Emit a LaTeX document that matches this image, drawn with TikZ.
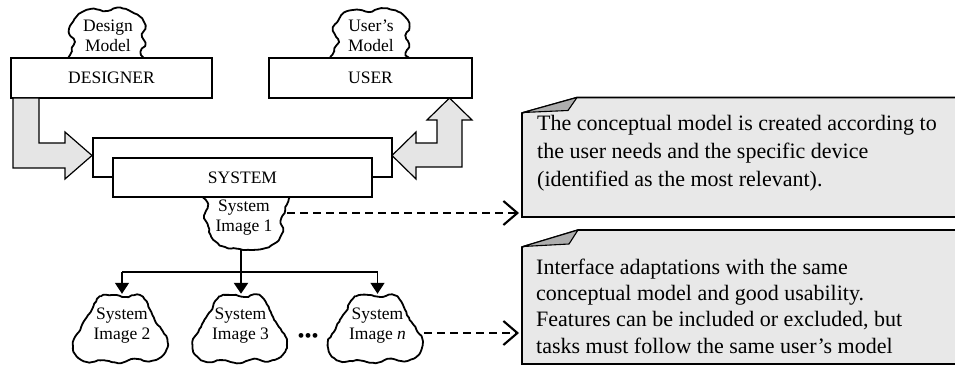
\documentclass[tikz,border=0pt]{standalone}
\usepackage{fontspec}
\setmainfont{Liberation Serif}
\usetikzlibrary{arrows.meta,decorations.pathmorphing}
\newcommand{\blobat}[5]{%
  \begin{scope}[transform canvas={shift={(#1,#2)}}]
  \path[blob, x=#3pt, y=#4pt] plot[smooth cycle, tension=0.6] coordinates {#5};
  \end{scope}}
\begin{document}
\begin{tikzpicture}[x=1pt,y=-1pt,
  box/.style={draw, line width=1.3pt, fill=white, inner sep=0pt, font=\fontsize{17.5}{20}\selectfont},
  cloudtxt/.style={inner sep=0pt, align=center, font=\fontsize{17.5}{20}\selectfont},
  blob/.style={draw, line width=1.8pt, fill=white, line join=round, decorate,
     decoration={random steps, segment length=3pt, amplitude=0.5pt}},
  bigarrow/.style={draw, line width=1.2pt, fill=black!10, line join=miter},
  tree/.style={line width=1.5pt, -{Triangle[length=11pt,width=14pt]}},
  dasharrow/.style={line width=2.1pt, dash pattern=on 8pt off 5pt,
     -{Straight Barb[length=14pt,width=24pt,line width=2.1pt]}},
  note/.style={draw, line width=1.6pt, fill=black!9, line join=miter},
  flap/.style={draw, line width=1.1pt, fill=black!32, line join=round},
  notetxt/.style={inner sep=0pt, align=left, anchor=west}
]
\useasboundingbox (0,0) rectangle (955,366);
\pgfmathsetseed{7}

% ---------- top clouds ----------
\blobat{107}{33}{40}{25}{
 (-0.85,-1.3) (-0.88,-0.7) (-0.82,-0.35) (-0.95,0.05) (-0.85,0.45) (-0.7,0.75) (-0.4,0.95)
 (-0.05,0.88) (0.25,1.0) (0.55,0.9) (0.82,0.65) (0.95,0.3) (0.88,-0.05) (0.95,-0.4) (0.85,-0.75) (0.85,-1.3)}
\blobat{371}{33}{41}{25}{
 (-0.85,-1.3) (-0.9,-0.7) (-0.8,-0.35) (-0.92,0.1) (-0.8,0.5) (-0.65,0.8) (-0.35,0.93)
 (-0.05,0.85) (0.25,0.98) (0.6,0.9) (0.85,0.6) (0.93,0.25) (0.85,-0.1) (0.92,-0.45) (0.85,-0.8) (0.85,-1.3)}
\node[cloudtxt] (dm) at (108,36) {Design\\Model};
\node[cloudtxt] (um) at (371,36) {User’s\\Model};

% ---------- actor boxes ----------
\node[box, minimum width=201pt, minimum height=40pt] (designer) at (111.5,78) {DESIGNER};
\node[box, minimum width=203pt, minimum height=40pt] (user) at (370.5,78) {USER};

% ---------- big arrows ----------
\path[bigarrow] (13,98) -- (39,98) -- (39,143) -- (65,143) -- (65,132) -- (92,155.5)
  -- (65,179) -- (65,168) -- (13,168) -- cycle;
\path[bigarrow] (392,155.5) -- (416,132) -- (416,143) -- (437,143) -- (437,120) -- (427,120)
  -- (449.5,98) -- (472,120) -- (462,120) -- (462,167) -- (416,167) -- (416,179) -- cycle;

% ---------- system ----------
\node[box, minimum width=299pt, minimum height=39pt] (sysback) at (242.5,157.5) {};
\blobat{245}{223.5}{42}{26.5}{
 (-0.9,1.3) (-0.88,0.7) (-0.97,0.3) (-0.88,-0.1) (-0.8,-0.5) (-0.55,-0.85) (-0.2,-0.95)
 (0.15,-1.0) (0.5,-0.92) (0.75,-0.7) (0.9,-0.3) (0.85,0.1) (0.95,0.5) (0.9,1.3)}
\node[box, minimum width=259pt, minimum height=39pt] (system) at (242.5,177.5) {SYSTEM};
\node[cloudtxt] (img1) at (244,218) {System\\Image 1};
\coordinate (img1bot) at (241,249);
\coordinate (img1east) at (287,213);

% ---------- bottom clouds ----------
\foreach \cx in {120.5,240,375.5}{
\blobat{\cx}{328.5}{47.5}{34.5}{
 (-0.55,0.72) (-0.42,0.93) (-0.15,0.97) (0.1,0.92) (0.35,0.98) (0.5,0.85) (0.62,0.55)
 (0.72,0.25) (0.85,0.0) (0.98,-0.3) (0.97,-0.6) (0.85,-0.82) (0.6,-0.95) (0.3,-0.88) (0,-1.0)
 (-0.35,-0.92) (-0.7,-0.97) (-0.95,-0.75) (-1.0,-0.4) (-0.88,-0.1) (-0.75,0.25) (-0.62,0.5)}
}
\node[cloudtxt, minimum width=95pt, minimum height=64pt] (img2) at (122,326) {System\\Image 2};
\node[cloudtxt, minimum width=95pt, minimum height=64pt] (img3) at (240.5,326) {System\\Image 3};
\node[cloudtxt, minimum width=95pt, minimum height=64pt] (imgn) at (377.5,326) {System\\Image \textit{n}};
\node[inner sep=0pt, font=\fontsize{20}{20}\selectfont] (dots) at (308,338) {•••};
\coordinate (imgneast) at (424,333);

% ---------- tree ----------
\coordinate (j) at (241,272);
\draw[line width=2.4pt] (img1bot) -- (j);
\draw[line width=1.5pt] (img2.north |- j) -- (imgn.north |- j);
\draw[tree, line width=2.4pt] (j) -- (img3.north -| j);
\draw[tree] (img2.north |- j) -- (img2.north);
\draw[tree] (imgn.north |- j) -- (imgn.north);

% ---------- notes ----------
\path[note] (522,113) -- (577,97.5) -- (962,97.5) -- (962,217) -- (522,217) -- cycle;
\path[flap] (523,112.5) -- (577,97.5) -- (568,110.5) -- cycle;
\node[notetxt, font=\fontsize{22}{28}\selectfont] (note1) at (537,153.5)
 {The conceptual model is created according to\\the user needs and the specific device\\(identified as the most relevant).};

\path[note] (522,247) -- (578,230) -- (962,230) -- (962,364) -- (522,364) -- cycle;
\path[flap] (523,246.5) -- (578,230) -- (569,244) -- cycle;
\node[notetxt, font=\fontsize{22}{26.3}\selectfont] (note2) at (536,306)
 {Interface adaptations with the same\\conceptual model and good usability.\\Features can be included or excluded, but\\tasks must follow the same user’s model};

\coordinate (n1) at (519,213);
\coordinate (n2) at (519,333);
\draw[dasharrow] (img1east) -- (n1);
\draw[dasharrow] (imgneast) -- (n2);
\end{tikzpicture}
\end{document}
